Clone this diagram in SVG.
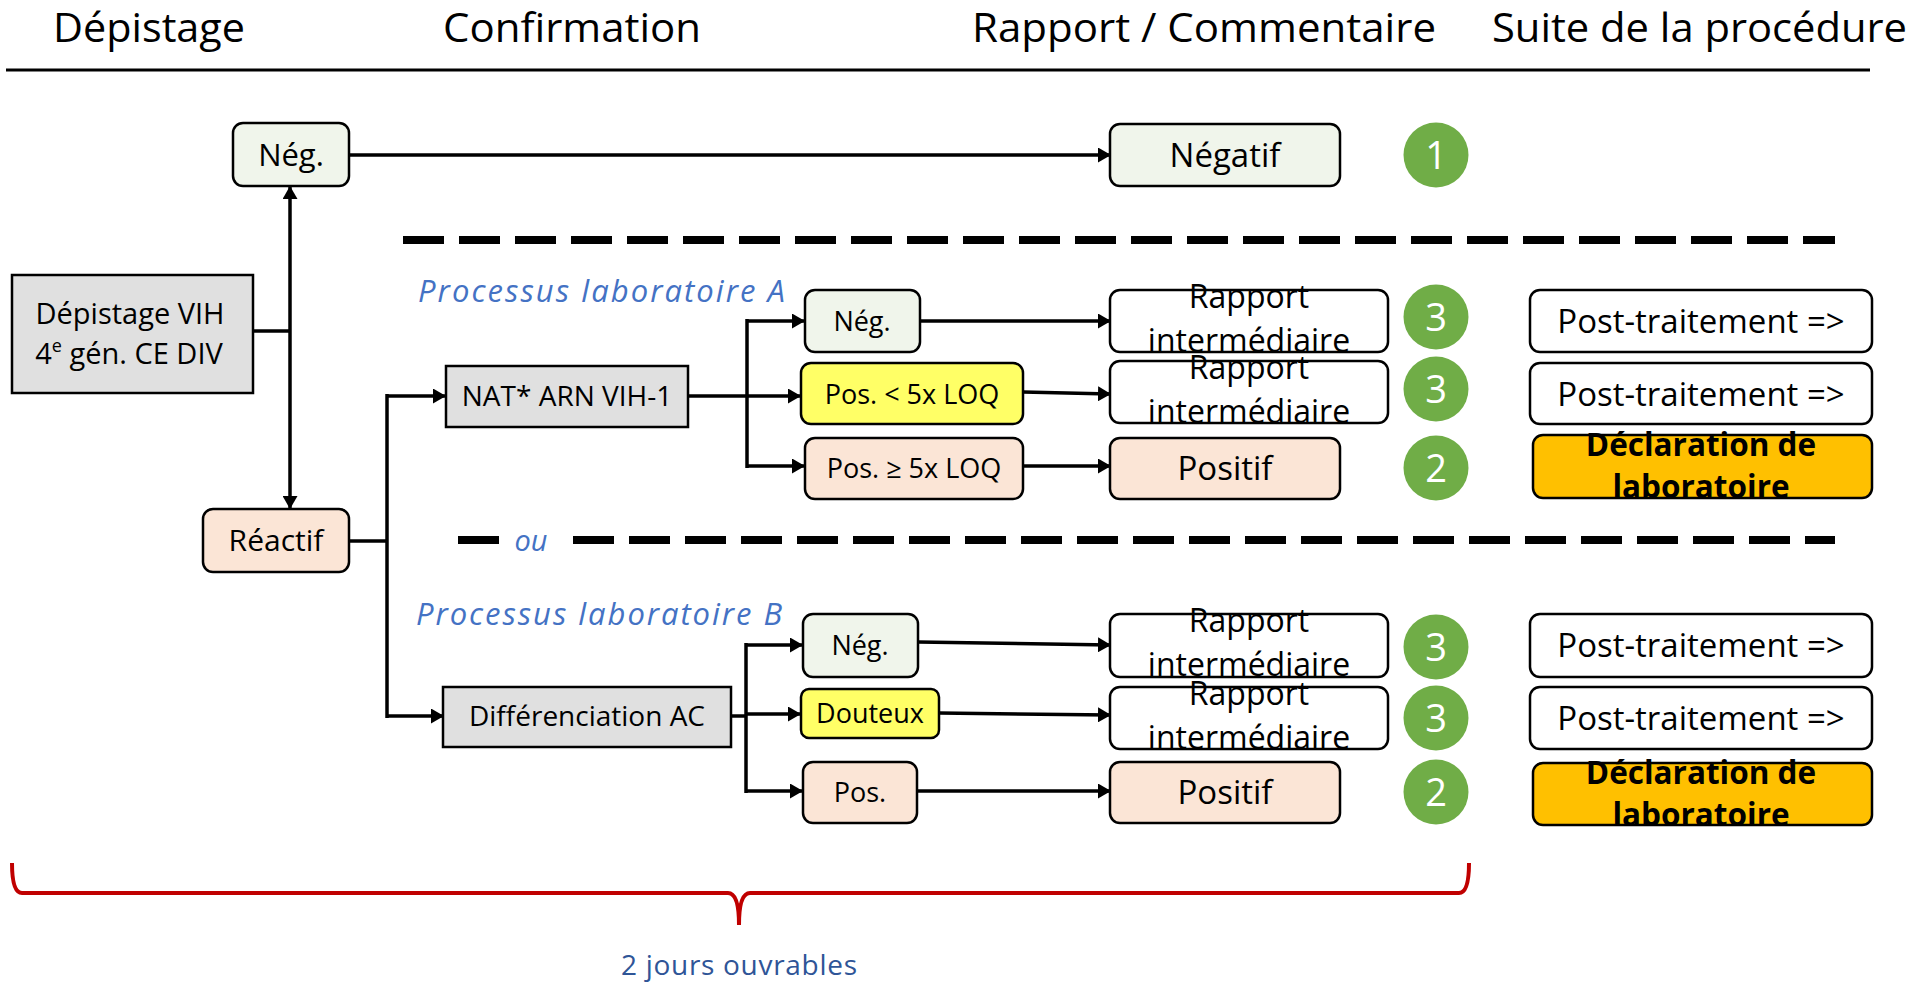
<svg xmlns="http://www.w3.org/2000/svg" width="1929" height="982" viewBox="0 0 1929 982">
<style>
.t{font-family:'Open Sans','Noto Sans',sans-serif;fill:#000}
.h{font-size:40px}
.s{font-size:27px}
.m{font-size:33px}
.r{font-size:32px}
.b{font-size:31.5px;font-weight:bold}
.lab{font-family:'Open Sans','Noto Sans',sans-serif;font-style:italic;fill:#4472C4;font-size:31px}
.box{stroke:#000;stroke-width:2.5}
.neg{fill:#F0F5EB}
.pos{fill:#FBE5D6}
.yel{fill:#FFFF66}
.gry{fill:#E0E0E0}
.wht{fill:#FFFFFF}
.org{fill:#FFC000}
.circ{fill:#70AD47}
.num{font-family:'Open Sans','Noto Sans',sans-serif;fill:#fff;font-size:38px;text-anchor:middle}
.c{text-anchor:middle}
#connectors line,#connectors path{stroke:#000;stroke-width:3.5;fill:none}
.dash{stroke:#000;stroke-width:8;stroke-dasharray:41 15;fill:none}
</style>
<defs>
<marker id="arr" viewBox="0 0 13 15" refX="12" refY="7.5" markerWidth="13" markerHeight="15" markerUnits="userSpaceOnUse" orient="auto">
<path d="M0,0 L13,7.5 L0,15 z" fill="#000"/>
</marker>
</defs>
<rect width="1929" height="982" fill="#fff"/>

<g id="headers">
<text class="t h" x="53" y="42" textLength="192" lengthAdjust="spacingAndGlyphs">Dépistage</text>
<text class="t h" x="443" y="42" textLength="258" lengthAdjust="spacingAndGlyphs">Confirmation</text>
<text class="t h" x="972" y="42" textLength="464" lengthAdjust="spacingAndGlyphs">Rapport / Commentaire</text>
<text class="t h" x="1492" y="42" textLength="415" lengthAdjust="spacingAndGlyphs">Suite de la procédure</text>
<line x1="6" y1="70" x2="1870" y2="70" stroke="#000" stroke-width="3"/>
</g>

<g id="separators">
<line class="dash" x1="403" y1="240" x2="1835" y2="240"/>
<line class="dash" x1="458" y1="540" x2="499" y2="540"/>
<text class="lab" x="531" y="551" text-anchor="middle" style="font-size:29px">ou</text>
<line class="dash" x1="573" y1="540" x2="1835" y2="540"/>
<text class="lab" x="418" y="302" textLength="367" lengthAdjust="spacing">Processus laboratoire A</text>
<text class="lab" x="416" y="625" textLength="366" lengthAdjust="spacing">Processus laboratoire B</text>
</g>

<g id="connectors">
<line x1="253" y1="331" x2="290" y2="331"/>
<line x1="290" y1="331" x2="290" y2="187" marker-end="url(#arr)"/>
<line x1="290" y1="331" x2="290" y2="508" marker-end="url(#arr)"/>
<line x1="349" y1="155" x2="1110" y2="155" marker-end="url(#arr)"/>
<line x1="349" y1="541" x2="387" y2="541"/>
<line x1="387" y1="394" x2="387" y2="718"/>
<line x1="387" y1="396" x2="445" y2="396" marker-end="url(#arr)"/>
<line x1="387" y1="716" x2="443" y2="716" marker-end="url(#arr)"/>
<line x1="688" y1="396" x2="747" y2="396"/>
<line x1="747" y1="319" x2="747" y2="468"/>
<line x1="747" y1="321" x2="804" y2="321" marker-end="url(#arr)"/>
<line x1="747" y1="396" x2="800" y2="396" marker-end="url(#arr)"/>
<line x1="747" y1="466" x2="804" y2="466" marker-end="url(#arr)"/>
<line x1="920" y1="321" x2="1110" y2="321" marker-end="url(#arr)"/>
<line x1="1023" y1="392" x2="1110" y2="394" marker-end="url(#arr)"/>
<line x1="1023" y1="466" x2="1110" y2="466" marker-end="url(#arr)"/>
<line x1="731" y1="716" x2="746" y2="716"/>
<line x1="746" y1="643" x2="746" y2="793"/>
<line x1="746" y1="645" x2="802" y2="645" marker-end="url(#arr)"/>
<line x1="746" y1="714" x2="800" y2="714" marker-end="url(#arr)"/>
<line x1="746" y1="791" x2="802" y2="791" marker-end="url(#arr)"/>
<line x1="918" y1="642" x2="1110" y2="645" marker-end="url(#arr)"/>
<line x1="939" y1="713" x2="1110" y2="715" marker-end="url(#arr)"/>
<line x1="917" y1="791" x2="1110" y2="791" marker-end="url(#arr)"/>
</g>

<g id="n-neg-top"><rect class="box neg" x="233" y="123" width="116" height="63" rx="10"/><text class="t c" style="font-size:31px" x="291" y="166">Nég.</text></g>
<g id="n-negatif"><rect class="box neg" x="1110" y="124" width="230" height="62" rx="10"/><text class="t m c" x="1225" y="167">Négatif</text></g>
<g id="b1"><circle class="circ" cx="1436" cy="155" r="32.5"/><text class="num" x="1436" y="169">1</text></g>

<g id="n-depistage"><rect class="box gry" x="12" y="275" width="241" height="118"/>
<text class="t c" style="font-size:29px" x="130" y="324">Dépistage VIH</text>
<text class="t c" style="font-size:29px" x="129" y="364">4<tspan style="font-size:18px" dy="-12">e</tspan><tspan dy="12"> gén. CE DIV</tspan></text></g>
<g id="n-reactif"><rect class="box pos" x="203" y="509" width="146" height="63" rx="10"/><text class="t c" style="font-size:30px" x="276" y="551">Réactif</text></g>

<g id="n-nat"><rect class="box gry" x="446" y="366" width="242" height="61"/><text class="t c" style="font-size:28px" x="567" y="406">NAT* ARN VIH-1</text></g>
<g id="n-negA"><rect class="box neg" x="805" y="290" width="115" height="62" rx="10"/><text class="t s c" x="862" y="331">Nég.</text></g>
<g id="n-pos5A"><rect class="box yel" x="801" y="363" width="222" height="61" rx="10"/><text class="t s c" x="912" y="404">Pos. &lt; 5x LOQ</text></g>
<g id="n-posgeA"><rect class="box pos" x="805" y="438" width="218" height="61" rx="10"/><text class="t s c" x="914" y="478">Pos. ≥ 5x LOQ</text></g>

<g id="n-rapA1"><rect class="box wht" x="1110" y="290" width="278" height="62" rx="10"/><text class="t r c" x="1249" y="308">Rapport</text><text class="t r c" x="1249" y="352">intermédiaire</text></g>
<g id="n-rapA2"><rect class="box wht" x="1110" y="361" width="278" height="62" rx="10"/><text class="t r c" x="1249" y="379">Rapport</text><text class="t r c" x="1249" y="423">intermédiaire</text></g>
<g id="n-posA"><rect class="box pos" x="1110" y="438" width="230" height="61" rx="10"/><text class="t m c" x="1225" y="480">Positif</text></g>
<g id="bA1"><circle class="circ" cx="1436" cy="317" r="32.5"/><text class="num" x="1436" y="331">3</text></g>
<g id="bA2"><circle class="circ" cx="1436" cy="389" r="32.5"/><text class="num" x="1436" y="403">3</text></g>
<g id="bA3"><circle class="circ" cx="1436" cy="468" r="32.5"/><text class="num" x="1436" y="482">2</text></g>
<g id="n-postA1"><rect class="box wht" x="1530" y="290" width="342" height="62" rx="10"/><text class="t m c" x="1701" y="333">Post-traitement =&gt;</text></g>
<g id="n-postA2"><rect class="box wht" x="1530" y="363" width="342" height="61" rx="10"/><text class="t m c" x="1701" y="406">Post-traitement =&gt;</text></g>
<g id="n-declA"><rect class="box org" x="1533" y="435" width="339" height="63" rx="10"/><text class="t b c" x="1701" y="456">Déclaration de</text><text class="t b c" x="1701" y="498">laboratoire</text></g>

<g id="n-diff"><rect class="box gry" x="443" y="687" width="288" height="60"/><text class="t c" style="font-size:28px" x="587" y="726">Différenciation AC</text></g>
<g id="n-negB"><rect class="box neg" x="803" y="614" width="115" height="63" rx="10"/><text class="t s c" x="860" y="655">Nég.</text></g>
<g id="n-dout"><rect class="box yel" x="801" y="689" width="138" height="49" rx="8"/><text class="t s c" x="870" y="723">Douteux</text></g>
<g id="n-posB"><rect class="box pos" x="803" y="762" width="114" height="61" rx="10"/><text class="t s c" x="860" y="802">Pos.</text></g>

<g id="n-rapB1"><rect class="box wht" x="1110" y="614" width="278" height="63" rx="10"/><text class="t r c" x="1249" y="632">Rapport</text><text class="t r c" x="1249" y="676">intermédiaire</text></g>
<g id="n-rapB2"><rect class="box wht" x="1110" y="687" width="278" height="62" rx="10"/><text class="t r c" x="1249" y="705">Rapport</text><text class="t r c" x="1249" y="749">intermédiaire</text></g>
<g id="n-posB2"><rect class="box pos" x="1110" y="762" width="230" height="61" rx="10"/><text class="t m c" x="1225" y="804">Positif</text></g>
<g id="bB1"><circle class="circ" cx="1436" cy="647" r="32.5"/><text class="num" x="1436" y="661">3</text></g>
<g id="bB2"><circle class="circ" cx="1436" cy="718" r="32.5"/><text class="num" x="1436" y="732">3</text></g>
<g id="bB3"><circle class="circ" cx="1436" cy="792" r="32.5"/><text class="num" x="1436" y="806">2</text></g>
<g id="n-postB1"><rect class="box wht" x="1530" y="614" width="342" height="63" rx="10"/><text class="t m c" x="1701" y="657">Post-traitement =&gt;</text></g>
<g id="n-postB2"><rect class="box wht" x="1530" y="687" width="342" height="62" rx="10"/><text class="t m c" x="1701" y="730">Post-traitement =&gt;</text></g>
<g id="n-declB"><rect class="box org" x="1533" y="763" width="339" height="62" rx="10"/><text class="t b c" x="1701" y="784">Déclaration de</text><text class="t b c" x="1701" y="826">laboratoire</text></g>

<g id="brace">
<path d="M12 863 Q12 893 22 893 L728 893 Q739 893 739 925 Q739 893 750 893 L1459 893 Q1469 893 1469 863" fill="none" stroke="#C00000" stroke-width="4"/>
<text x="739" y="975" text-anchor="middle" style="font-family:'Open Sans','Noto Sans',sans-serif;font-size:28px;fill:#2F5597" textLength="236" lengthAdjust="spacing">2 jours ouvrables</text>
</g>
</svg>
